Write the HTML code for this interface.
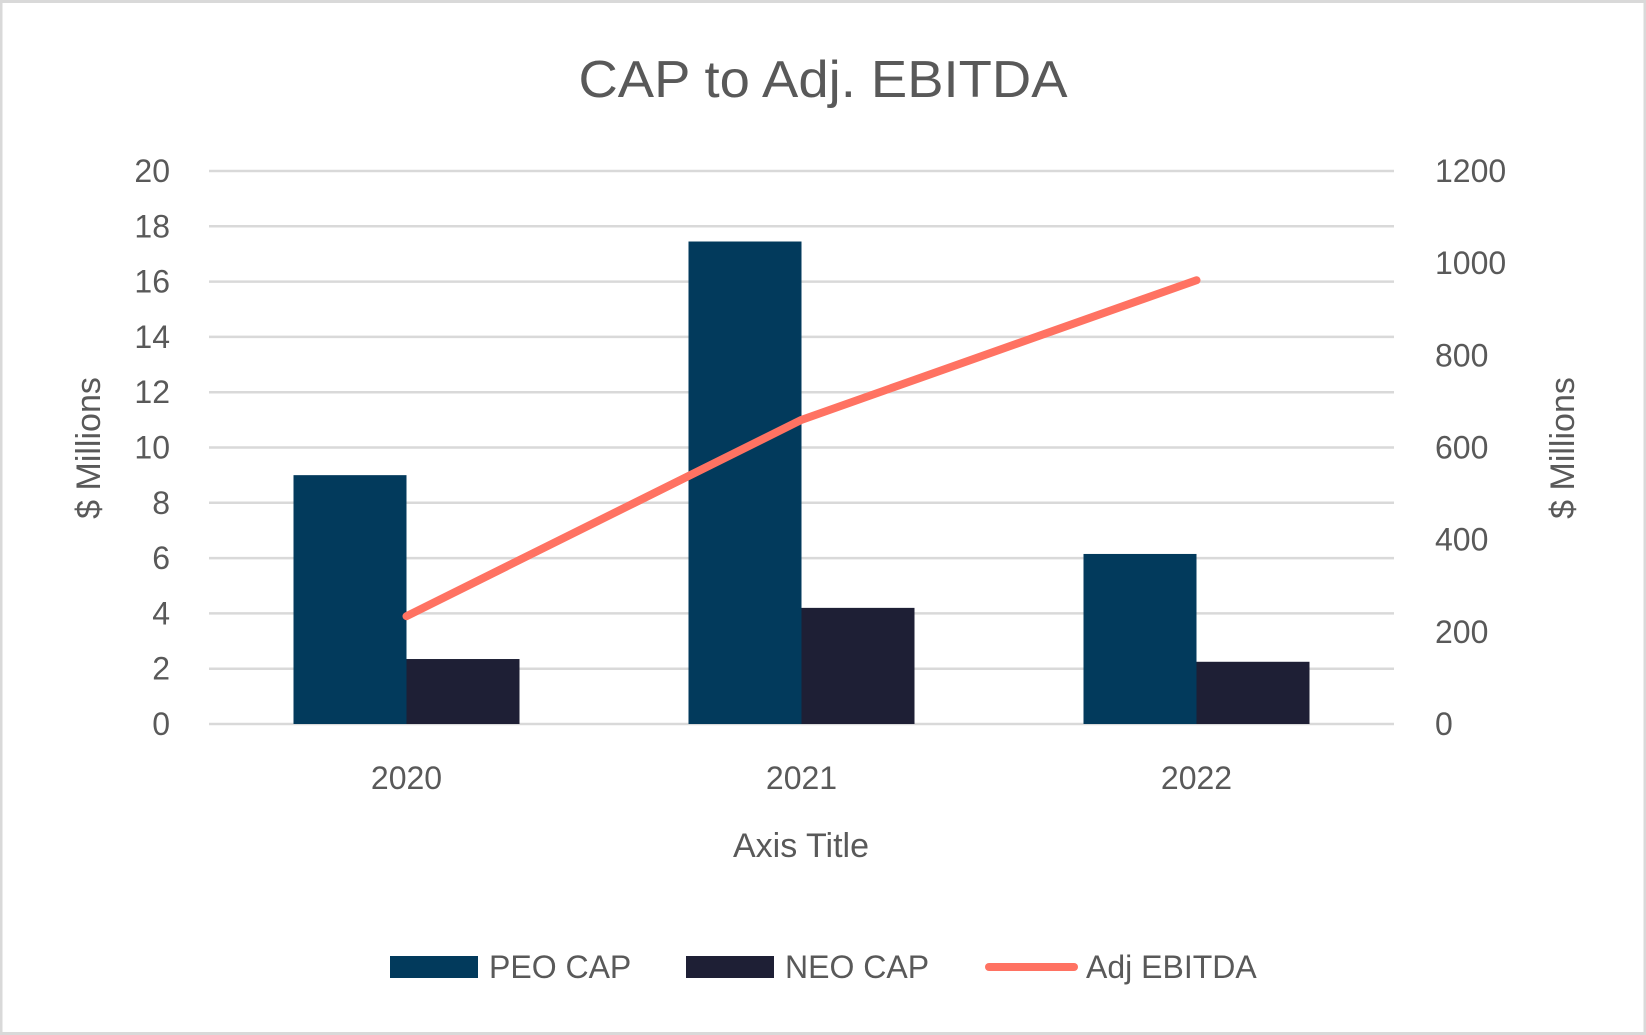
<!DOCTYPE html>
<html><head><meta charset="utf-8"><style>
html,body{margin:0;padding:0;background:#fff;}
svg{display:block;font-family:"Liberation Sans",sans-serif;}
</style></head><body>
<svg id="chart" width="1646" height="1035" viewBox="0 0 1646 1035">
<rect x="1" y="1.5" width="1644" height="1032" fill="#fff" stroke="#d9d9d9" stroke-width="3"/>
<text x="823" y="97" text-anchor="middle" font-size="52" fill="#595959" textLength="489" lengthAdjust="spacingAndGlyphs">CAP to Adj. EBITDA</text>
<g id="grid"></g>
<g id="bars"></g>
<g id="line"></g>
<g id="axes"></g>
<text transform="translate(100,448) rotate(-90)" text-anchor="middle" font-size="34" fill="#595959">$ Millions</text>
<text transform="translate(1574,448) rotate(-90)" text-anchor="middle" font-size="34" fill="#595959">$ Millions</text>
<text x="801" y="857" text-anchor="middle" font-size="34" fill="#595959">Axis Title</text>
<g>
<g>
<rect x="390" y="956" width="88" height="22" fill="#023a5c"/>
<text x="489" y="978" font-size="32" fill="#595959">PEO CAP</text></g>
<g>
<rect x="686" y="956" width="88" height="22" fill="#1e1f35"/>
<text x="785" y="978" font-size="32" fill="#595959">NEO CAP</text></g>
<g>
<line x1="989" y1="967" x2="1074" y2="967" stroke="#ff7262" stroke-width="8" stroke-linecap="round"/>
<text x="1086" y="978" font-size="32" fill="#595959">Adj EBITDA</text></g>
</g>
</svg>
<script>
const categories = ["2020","2021","2022"];
const peoCap = [9.0, 17.45, 6.15];
const neoCap = [2.35, 4.2, 2.25];
const adjEbitda = [234, 660, 963];
const leftTicks = [0,2,4,6,8,10,12,14,16,18,20];
const rightTicks = [0,200,400,600,800,1000,1200];

const NS = "http://www.w3.org/2000/svg";
const X0 = 209, X1 = 1394, Y0 = 724, Y1 = 171;
const leftMax = 20, rightMax = 1200;
const yL = v => Y0 - (v / leftMax) * (Y0 - Y1);
const yR = v => Y0 - (v / rightMax) * (Y0 - Y1);
const band = (X1 - X0) / categories.length;
const xC = i => X0 + band * (i + 0.5);
const barW = 113;
function mk(tag, attrs, parent){ const e=document.createElementNS(NS,tag); for(const k in attrs) e.setAttribute(k,attrs[k]); parent.appendChild(e); return e; }

const grid = document.getElementById('grid');
const axes = document.getElementById('axes');
leftTicks.forEach(v => {
  const g = mk('line',{x1:X0,x2:X1,y1:yL(v),y2:yL(v),stroke:'#d9d9d9','stroke-width':2.5},grid);
  
  
  const t = mk('text',{x:170,y:yL(v)+11,'text-anchor':'end','font-size':32,fill:'#595959'},axes);
  t.textContent = v;
  
  
});
rightTicks.forEach(v => {
  const t = mk('text',{x:1435,y:yR(v)+11,'text-anchor':'start','font-size':32,fill:'#595959'},axes);
  t.textContent = v;
  
  
});
categories.forEach((c,i) => {
  const t = mk('text',{x:xC(i),y:789,'text-anchor':'middle','font-size':32,fill:'#595959'},axes);
  t.textContent = c;
  
  
});
const bars = document.getElementById('bars');
categories.forEach((c,i) => {
  const p = mk('rect',{x:xC(i)-barW,y:yL(peoCap[i]),width:barW,height:Y0-yL(peoCap[i]),fill:'#023a5c'},bars);
  
  
  const n = mk('rect',{x:xC(i),y:yL(neoCap[i]),width:barW,height:Y0-yL(neoCap[i]),fill:'#1e1f35'},bars);
  
  
});
const pts = adjEbitda.map((v,i)=>xC(i)+','+yR(v)).join(' ');
const pl = mk('polyline',{points:pts,fill:'none',stroke:'#ff7262','stroke-width':8,'stroke-linecap':'round','stroke-linejoin':'round'},document.getElementById('line'));


</script>
</body></html>
